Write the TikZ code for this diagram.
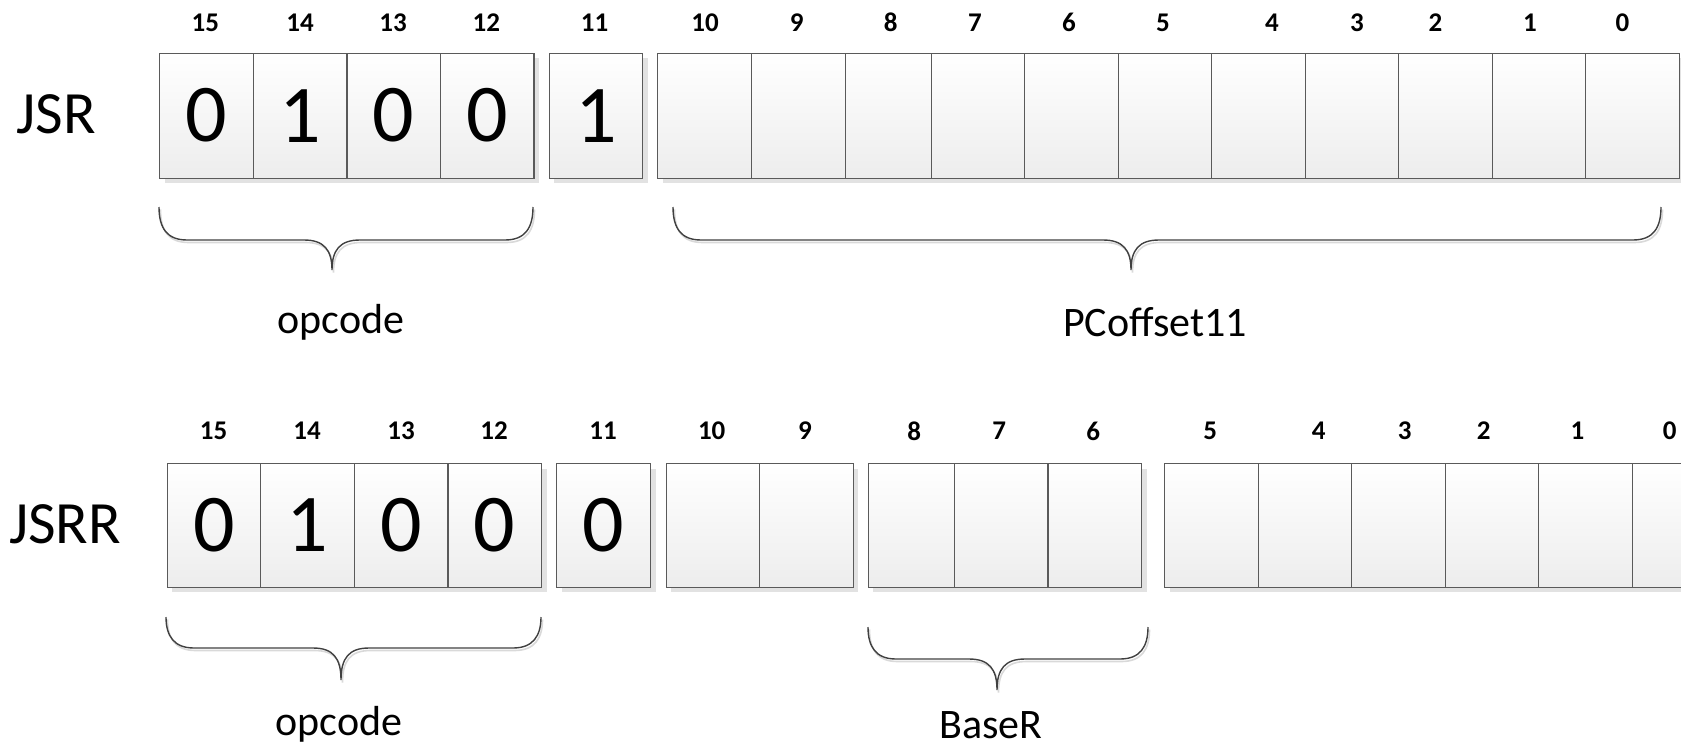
\documentclass[tikz,border=0pt]{standalone}
\usepackage{fontspec}
\setmainfont{Carlito}
\usetikzlibrary{shadows}
\definecolor{celledge}{HTML}{5A5A5A}
\definecolor{cellfill}{HTML}{EDEDED}
\definecolor{shadegray}{HTML}{E2E2E2}
\definecolor{bracegray}{HTML}{404040}

\begin{document}
\begin{tikzpicture}[x=1pt, y=-1pt,
  cell/.style={draw=celledge, line width=1.3pt, top color=white, bottom color=cellfill,
    anchor=north west, inner sep=0pt, font=\fontsize{82}{82}\selectfont,
    drop shadow={shadow xshift=5pt, shadow yshift=-5pt, fill=shadegray, opacity=1}},
  bitnum/.style={font=\fontsize{27}{27}\selectfont\bfseries},
  regname/.style={font=\fontsize{60}{60}\selectfont},
  fieldname/.style={font=\fontsize{42}{42}\selectfont, inner sep=0pt},
  brace/.style={draw=bracegray, line width=1.4pt},
  braceshadow/.style={draw=gray!30, line width=1.6pt}]

\useasboundingbox (0,0) rectangle (1681,750);
\clip (0,0) rectangle (1681,750);

% ============================================================
% JSR: 0100 | 1 | PCoffset11
% ============================================================
\node[regname] (jsr) at (56,114) {JSR};

% bit cells (left edge / width / value)
\foreach \bit/\xx/\ww/\val in {15/159/93.6/0, 14/252.6/93.6/1, 13/346.2/93.6/0, 12/439.8/93.6/0,
    11/548.5/93.5/1,
    10/657/94/{}, 9/751/94/{}, 8/845/85.5/{}, 7/930.5/93.5/{}, 6/1024/93.5/{}, 5/1117.5/93.5/{},
    4/1211/93.5/{}, 3/1304.5/93.5/{}, 2/1398/93.5/{}, 1/1491.5/93.5/{}, 0/1585/93.5/{}} {
  \node[cell, minimum width=\ww pt, minimum height=125pt] (jsr\bit) at (\xx,52.5) {\val};
}

% bit numbers
\foreach \bit/\xx in {15/205.4, 14/300, 13/393, 12/486.4, 11/594.6, 10/705, 9/796.7, 8/890.7,
    7/975, 6/1069, 5/1163, 4/1272, 3/1357, 2/1435.5, 1/1530, 0/1622.4} {
  \node[bitnum] (jsrnum\bit) at (\xx,22.5) {\bit};
}

% ============================================================
% JSRR: 0100 | 0 | 00 | BaseR | 000000
% ============================================================
\node[regname] (jsrr) at (65,524) {JSRR};

\foreach \bit/\xx/\ww/\val in {15/166.5/93.6/0, 14/260.1/93.6/1, 13/353.7/93.6/0, 12/447.3/93.6/0,
    11/556/94/0,
    10/665.5/93.5/{}, 9/759/93.5/{},
    8/867.5/86/{}, 7/953.5/93.7/{}, 6/1047.2/93.8/{},
    5/1164/93.5/{}, 4/1257.5/93.5/{}, 3/1351/93.5/{}, 2/1444.5/93.5/{}, 1/1538/93.5/{}, 0/1631.5/93.5/{}} {
  \node[cell, minimum width=\ww pt, minimum height=123.5pt] (jsrr\bit) at (\xx,463) {\val};
}

\foreach \bit/\xx in {15/213.6, 14/307, 13/401, 12/494, 11/603, 10/711.7, 9/805, 8/914.3,
    7/999.3, 6/1093.3, 5/1210.3, 4/1318.6, 3/1404.7, 2/1483.6, 1/1577.4, 0/1669.8} {
  \node[bitnum] (jsrrnum\bit) at (\xx,431) {\bit};
}

% ============================================================
% Braces (left / right / end y / bar y / tip x / tip y)
% ============================================================
\foreach \l/\r/\t/\h/\x/\b in {159/533/207/240/332/270, 673/1661/207/240/1131/270,
    166/541/617/648/341/680, 868/1148/627/659/997/690} {
  \draw[braceshadow, shift={(1.5,2.5)}]
    (\l,\t) .. controls (\l,\h-12) and (\l+8,\h) .. (\l+28,\h) -- (\x-28,\h)
    .. controls (\x-8,\h) and (\x,\h+10) .. (\x,\b)
    .. controls (\x,\h+10) and (\x+8,\h) .. (\x+28,\h) -- (\r-28,\h)
    .. controls (\r-8,\h) and (\r,\h-12) .. (\r,\t);
  \draw[brace]
    (\l,\t) .. controls (\l,\h-12) and (\l+8,\h) .. (\l+28,\h) -- (\x-28,\h)
    .. controls (\x-8,\h) and (\x,\h+10) .. (\x,\b)
    .. controls (\x,\h+10) and (\x+8,\h) .. (\x+28,\h) -- (\r-28,\h)
    .. controls (\r-8,\h) and (\r,\h-12) .. (\r,\t);
}

% field labels
\node[fieldname] (opc1) at (341,322) {opcode};
\node[fieldname] (pcoff) at (1155,322) {PCoffset11};
\node[fieldname] (opc2) at (339,724) {opcode};
\node[fieldname] (baser) at (991,725) {BaseR};

\end{tikzpicture}
\end{document}
